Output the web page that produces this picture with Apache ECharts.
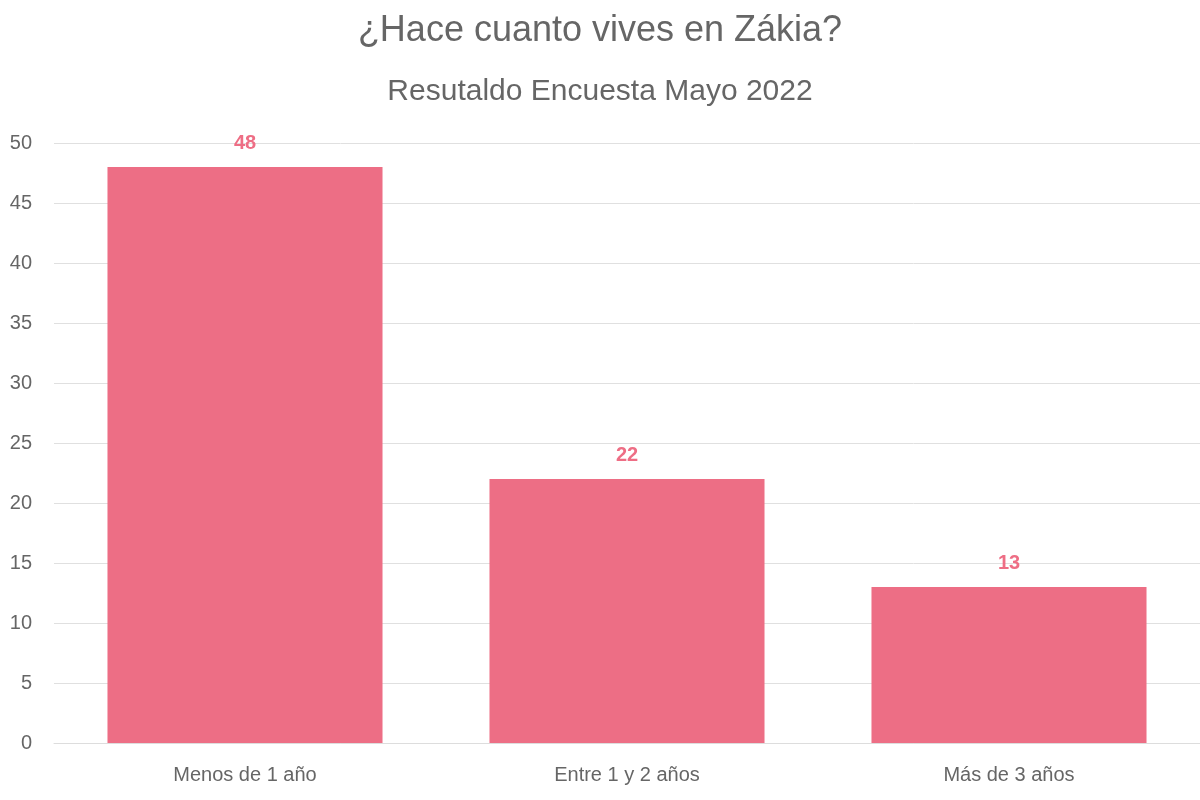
<!DOCTYPE html>
<html>
<head>
<meta charset="utf-8">
<script src="https://cdn.jsdelivr.net/npm/echarts@6/dist/echarts.min.js"></script>
<style>html,body{margin:0;padding:0;background:#fff}#main{width:1200px;height:800px}</style>
</head>
<body>
<div id="main"></div>
<script>
var categories = ['Menos de 1 año', 'Entre 1 y 2 años', 'Más de 3 años'];
var values = [48, 22, 13];

var myChart = echarts.init(document.getElementById('main'));

var option = {
    textStyle: { fontFamily: 'Helvetica, Arial, "Liberation Sans", sans-serif' },
    title: [
        { text: '¿Hace cuanto vives en Zákia?', left: 'center', top: 8,
          textStyle: { fontSize: 36, fontWeight: 'normal', color: '#666' } },
        { text: 'Resutaldo Encuesta Mayo 2022', left: 'center', top: 72,
          textStyle: { fontSize: 30, fontWeight: 'normal', color: '#666' } }
    ],
    grid: { left: 54, right: 0, top: 143, bottom: 57 },
    xAxis: {
        type: 'category',
        data: categories,
        axisTick: { show: false },
        axisLine: { lineStyle: { color: '#ddd' } },
        axisLabel: { fontSize: 20, color: '#666', margin: 22 }
    },
    yAxis: {
        type: 'value',
        min: 0, max: 50, interval: 5,
        axisLabel: { fontSize: 20, color: '#666', margin: 22 },
        splitLine: { lineStyle: { color: '#e0e0e0' } }
    },
    series: [{
        type: 'bar',
        data: values,
        barWidth: '72%',
        itemStyle: { color: '#ed6e85' },
        label: { show: true, position: 'top', distance: 14, fontSize: 20,
                 fontWeight: 'bold', color: '#ee6e85' }
    }]
};

myChart.setOption(option);
</script>
</body>
</html>
